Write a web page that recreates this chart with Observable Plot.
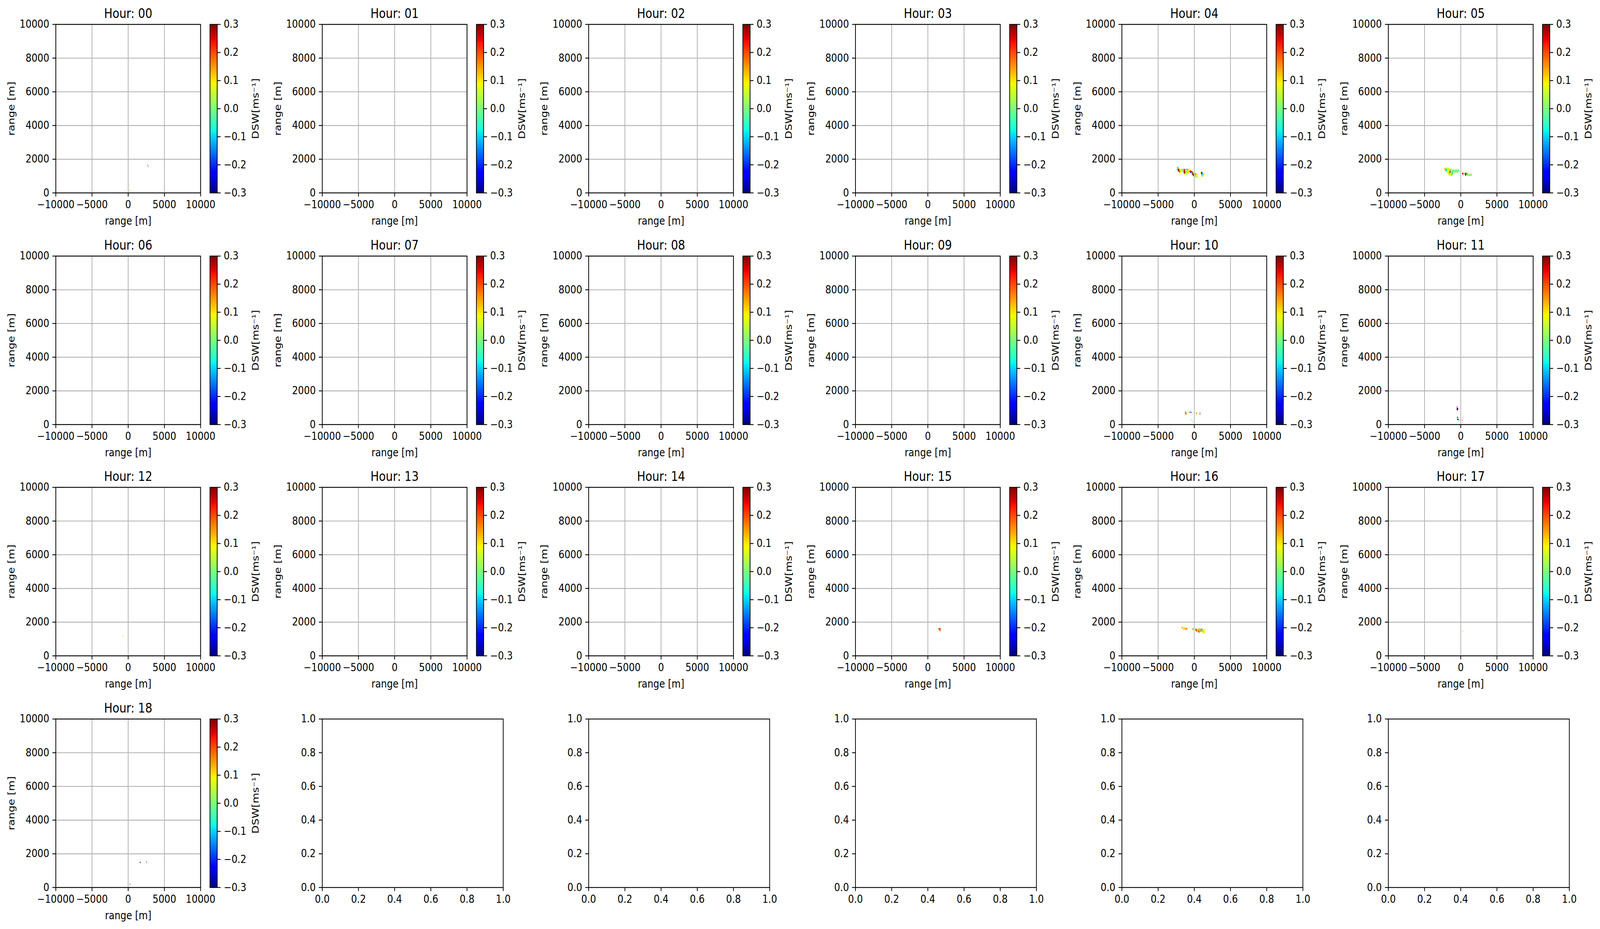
<!DOCTYPE html>
<html><head><meta charset="utf-8">
<script src="https://cdn.jsdelivr.net/npm/d3@7"></script>
<script src="https://cdn.jsdelivr.net/npm/@observablehq/plot@0.6"></script>
<style>
html,body{margin:0;padding:0;background:#fff;overflow:hidden;}
#fig{position:absolute;left:0;top:0;width:4774px;height:2378px;background:#fff;overflow:hidden;transform-origin:0 0;}
</style></head><body><div id="fig"></div>
<script>
// ---------------- data ----------------
const hours = ["00","01","02","03","04","05","06","07","08","09","10","11","12","13","14","15","16","17","18"];
const xTicks = [-10000, -5000, 0, 5000, 10000];
const yTicks = [0, 2000, 4000, 6000, 8000, 10000];
const cbTicks = [-0.3, -0.2, -0.1, 0.0, 0.1, 0.2, 0.3];
const unitTicks = [0, 0.2, 0.4, 0.6, 0.8, 1.0];
const xLabel = "range [m]";
const yLabel = "range [m]";
const cbLabel = "DSW[ms⁻¹]";

// runs of radar cells: [y centre (m), x of first cell (m), DSW values of consecutive cells (null = empty)]
const runs00 = [
  [1650, 2720, [0.20]],
  [1560, 2780, [0.22]],
  [440, 200, [0.02]],
  [140, 240, [0.05]]
];
const runs01 = [];
const runs02 = [];
const runs03 = [];
const runs04 = [
  [1500, -2300, [-0.10, -0.06]],
  [1440, -2300, [-0.08, 0.05, 0.10]],
  [1380, -2300, [0.00, 0.28, 0.30, 0.10, 0.08, 0.12, 0.05, 0.02, -0.08, -0.10, 0.20, 0.10, -0.08, 0.05, -0.12, 0.02, 0.06]],
  [1320, -2200, [0.30, 0.25, 0.12, 0.10, 0.05, 0.10, 0.00, 0.10, 0.22, 0.28, 0.05, 0.08, -0.10, 0.02, 0.10, 0.08, 0.12, 0.20]],
  [1260, -2100, [0.30, 0.20, 0.10, 0.08, null, 0.04, 0.00, 0.30, 0.25, 0.10, 0.02, -0.05, 0.10, 0.05, 0.18, 0.22, 0.28, -0.20, -0.22, 0.10]],
  [1200, -2000, [0.15, 0.10, null, null, null, null, 0.20, 0.30, 0.10, 0.00, 0.08, -0.02, 0.10, 0.12, null, -0.25, -0.15, -0.08, 0.28, 0.10]],
  [1140, -1400, [0.15, 0.22, 0.10, 0.05, null, 0.08, 0.10, null, null, null, -0.10, 0.05, 0.30, 0.00, 0.10, 0.20, -0.08]],
  [1080, -1300, [0.10, null, 0.02, null, null, null, null, null, null, 0.12, null, 0.30, 0.30, 0.10, 0.05, 0.18, 0.10, 0.08]],
  [1020, -100, [0.30, 0.10, 0.02, 0.08, 0.12, 0.06, 0.10]],
  [960, 100, [0.02, 0.00, 0.05, 0.02, 0.10]],
  [900, 200, [0.05, null, 0.06]],
  [1200, 900, [0.10, -0.25, -0.22]],
  [1140, 900, [0.08, -0.22, -0.20, -0.05, 0.00]],
  [1080, 1000, [-0.18, -0.08, -0.10, 0.05, 0.10]],
  [1020, 1000, [0.02, 0.00, 0.10, 0.05]],
  [960, 1100, [0.10, 0.03]],
  [190, 300, [0.10]]
];
const runs05 = [
  [1460, -2180, [0.05, 0.08, 0.10, 0.02, 0.08, 0.10, 0.05]],
  [1400, -2180, [0.20, 0.05, -0.10, 0.08, 0.10, 0.05, 0.02, 0.06, 0.04, 0.00, 0.02]],
  [1340, -2100, [0.10, -0.12, -0.05, 0.10, 0.08, 0.12, 0.05, 0.00, 0.06, 0.02, 0.00, 0.02, 0.00, -0.02, 0.00, 0.02, 0.00, -0.02, 0.00, 0.01]],
  [1280, -2000, [-0.10, 0.05, 0.10, 0.08, 0.02, 0.06, -0.20, 0.10, 0.05, 0.00, 0.02, -0.02, 0.00, 0.03, 0.00, -0.01, 0.02, 0.00, -0.02]],
  [1220, -1880, [0.08, 0.10, 0.05, 0.12, -0.25, 0.08, 0.02, 0.05, -0.05, 0.00, 0.02, 0.00, -0.02, 0.00, 0.02, 0.00, null, null, null, 0.20]],
  [1160, -1760, [0.10, 0.08, 0.12, 0.10, 0.05, 0.00, -0.12, 0.05]],
  [1100, -1660, [0.10, 0.12, 0.08, 0.05, -0.10, 0.02]],
  [1040, -1560, [0.08, 0.10, 0.05, 0.02, 0.06]],
  [1160, 250, [0.22, 0.28, 0.12, 0.02, 0.20, 0.30, -0.02, 0.00, 0.02]],
  [1100, 250, [0.25, 0.15, 0.00, 0.05, 0.30, 0.28, -0.05, 0.00, 0.02, 0.00, -0.02, 0.03, 0.00, 0.02]],
  [1040, 700, [0.30, 0.00, 0.02, -0.02, 0.00, 0.03, 0.00, 0.02, 0.00]],
  [163, 290, [0.00]]
];
const runs06 = [];
const runs07 = [];
const runs08 = [];
const runs09 = [];
const runs10 = [
  [740, -1250, [0.12, 0.02]],
  [680, -1250, [0.15, 0.30]],
  [620, -1150, [0.22]],
  [740, -660, [-0.06]],
  [680, -660, [0.10]],
  [740, -590, [-0.08]],
  [710, -420, [0.30]],
  [280, -310, [0.00]],
  [160, -230, [0.02]],
  [700, 300, [0.06, 0.10]],
  [640, 300, [0.26, 0.08]],
  [610, 790, [0.30]],
  [700, 830, [0.20]]
];
const runs11 = [
  [1025, -510, [-0.22]],
  [960, -480, [0.30, -0.28]],
  [900, -480, [-0.30, 0.30]],
  [840, -430, [0.30]],
  [406, -440, [0.30, 0.00]],
  [300, -450, [0.30, -0.25]],
  [230, -240, [-0.08]],
  [237, 280, [0.20]]
];
const runs12 = [[1150, -680, [0.08]]];
const runs13 = [];
const runs14 = [
  [480, 0, [0.00]],
  [380, -40, [0.05]],
  [250, 40, [-0.02]]
];
const runs15 = [
  [1580, 1440, [0.10]],
  [1590, 1560, [0.30, 0.20, 0.22]],
  [1530, 1620, [0.15, 0.20]],
  [1470, 1640, [0.12, 0.16]]
];
const runs16 = [
  [1680, -1700, [0.18, 0.20, null, 0.05, 0.08]],
  [1620, -1700, [0.15, null, 0.10, 0.05, 0.12, null, 0.20, 0.10, 0.12]],
  [1560, -1500, [0.08, 0.15, null, 0.25, 0.15, 0.12]],
  [1580, -150, [0.30]],
  [1530, -150, [0.10]],
  [1580, 200, [0.18, 0.20, 0.10, null, 0.15, 0.12, 0.20, -0.08, 0.10, 0.20]],
  [1520, 150, [0.10, 0.30, -0.05, 0.00, 0.05, 0.15, 0.10, 0.05, -0.10, 0.20, 0.12, 0.10, 0.08, 0.05]],
  [1460, 300, [0.20, 0.18, 0.10, 0.22, 0.08, 0.20, 0.12, 0.10, 0.15, 0.10, 0.08, 0.05]],
  [1400, 600, [0.20, 0.25, null, 0.10, null, 0.08, 0.10, 0.12, 0.06]],
  [1340, 1300, [0.05, 0.08]]
];
const runs17 = [[1460, 300, [0.05]]];
const runs18 = [
  [1485, 1680, [0.30]],
  [1500, 2540, [0.20]],
  [220, -60, [0.00]],
  [180, 280, [0.20]]
];
const runsByHour = [runs00, runs01, runs02, runs03, runs04, runs05, runs06, runs07, runs08, runs09,
  runs10, runs11, runs12, runs13, runs14, runs15, runs16, runs17, runs18];

// ---------------- layout & style ----------------
const FIG_W = 4774, FIG_H = 2378;
const STEP_X = 100, STEP_Y = 60;         // radar cell size (m)
const AX_L0 = 166, COL_DX = 795.2, AX_T0 = 62.4, ROW_DY = 592.5;
const AX_W = 432, AX_H = 431.3, EMPTY_W = 540, CB_OFF = 460, CB_W = 21.6;
const LW = 2.2, TICK_LEN = 9.7, TICK_PAD = 9.7, TICK_PX = 27.8, TITLE_PX = 33.3;
const baseStyle = {fontFamily: "DejaVu Sans", fontSize: TICK_PX + "px", background: "transparent", overflow: "visible", color: "black"};
const fmtInt = d3.format("d");
const fmt1 = d3.format(".1f");

// matplotlib "jet" colormap segment data
const JET = {
  r: [[0, 0], [0.35, 0], [0.66, 1], [0.89, 1], [1, 0.5]],
  g: [[0, 0], [0.125, 0], [0.375, 1], [0.64, 1], [0.91, 0], [1, 0]],
  b: [[0, 0.5], [0.11, 1], [0.34, 1], [0.65, 0], [1, 0]]
};
const JET_STOPS = [0, 0.11, 0.125, 0.34, 0.35, 0.375, 0.64, 0.65, 0.66, 0.89, 0.91, 1];
function seg(pts, t) {
  for (let i = 1; i < pts.length; i++) {
    if (t <= pts[i][0]) {
      const [t0, v0] = pts[i - 1], [t1, v1] = pts[i];
      return v0 + (v1 - v0) * (t - t0) / (t1 - t0);
    }
  }
  return pts[pts.length - 1][1];
}
const colorScale = {
  type: "linear",
  domain: JET_STOPS.map(t => -0.3 + 0.6 * t),
  range: JET_STOPS.map(t => d3.rgb(255 * seg(JET.r, t), 255 * seg(JET.g, t), 255 * seg(JET.b, t)).formatRgb()),
  interpolate: "rgb",
  clamp: true
};
const cbStops = d3.range(256).map(k => ({lo: -0.3 + 0.6 * k / 256, hi: -0.3 + 0.6 * (k + 1) / 256, mid: -0.3 + 0.6 * (k + 0.5) / 256}));

const fig = document.getElementById("fig");
function place(svg, left, top) {
  svg.style.position = "absolute";
  svg.style.left = left + "px";
  svg.style.top = top + "px";
  fig.appendChild(svg);
}
const axisOpts = {tickSize: TICK_LEN, tickPadding: TICK_PAD, strokeWidth: LW, fontSize: TICK_PX, label: null};

const ML = 170, MR = 60, MT = 70, MB = 120;
function dataPanel(h, runs, left, top) {
  const cells = [];
  for (const [y, x0, vals] of runs) vals.forEach((v, i) => { if (v != null) cells.push({x: x0 + i * STEP_X, y, v}); });
  const svg = Plot.plot({
    width: ML + AX_W + MR, height: MT + AX_H + MB,
    marginLeft: ML, marginRight: MR, marginTop: MT, marginBottom: MB,
    style: baseStyle,
    x: {domain: [-10000, 10000]},
    y: {domain: [0, 10000]},
    color: colorScale,
    marks: [
      Plot.rect(cells, {x1: d => d.x - STEP_X / 2, x2: d => d.x + STEP_X / 2, y1: d => d.y - STEP_Y / 2, y2: d => d.y + STEP_Y / 2, fill: "v", shapeRendering: "crispEdges"}),
      Plot.gridX(xTicks, {stroke: "#b0b0b0", strokeOpacity: 1, strokeWidth: LW}),
      Plot.gridY(yTicks, {stroke: "#b0b0b0", strokeOpacity: 1, strokeWidth: LW}),
      Plot.frame({stroke: "black", strokeWidth: LW}),
      Plot.axisX(xTicks, {anchor: "bottom", tickFormat: fmtInt, ...axisOpts}),
      Plot.axisY(yTicks, {anchor: "left", tickFormat: fmtInt, ...axisOpts}),
      Plot.text([`Hour: ${h}`], {frameAnchor: "top", dy: -16.7, lineAnchor: "bottom", textAnchor: "middle", fontSize: TITLE_PX}),
      Plot.text([xLabel], {frameAnchor: "bottom", dy: 61, lineAnchor: "top", textAnchor: "middle", fontSize: TICK_PX}),
      Plot.text([yLabel], {frameAnchor: "left", dx: -132, rotate: -90, lineAnchor: "middle", textAnchor: "middle", fontSize: TICK_PX})
    ]
  });
  place(svg, left - ML, top - MT);
}

const CB_ML = 10, CB_MR = 160, CB_MT = 70, CB_MB = 30;
function colorbar(left, top) {
  const svg = Plot.plot({
    width: CB_ML + CB_W + CB_MR, height: CB_MT + AX_H + CB_MB,
    marginLeft: CB_ML, marginRight: CB_MR, marginTop: CB_MT, marginBottom: CB_MB,
    style: baseStyle,
    y: {domain: [-0.3, 0.3]},
    color: colorScale,
    marks: [
      Plot.rect(cbStops, {y1: "lo", y2: "hi", fill: "mid", shapeRendering: "crispEdges"}),
      Plot.frame({stroke: "black", strokeWidth: LW}),
      Plot.axisY(cbTicks, {anchor: "right", tickFormat: fmt1, ...axisOpts}),
      Plot.text([cbLabel], {frameAnchor: "right", dx: 115, rotate: -90, lineAnchor: "middle", textAnchor: "middle", fontSize: TICK_PX})
    ]
  });
  place(svg, left - CB_ML, top - CB_MT);
}

function emptyPanel(left, top) {
  const svg = Plot.plot({
    width: ML + EMPTY_W + MR, height: MT + AX_H + MB,
    marginLeft: ML, marginRight: MR, marginTop: MT, marginBottom: MB,
    style: baseStyle,
    x: {domain: [0, 1]},
    y: {domain: [0, 1]},
    marks: [
      Plot.frame({stroke: "black", strokeWidth: LW}),
      Plot.axisX(unitTicks, {anchor: "bottom", tickFormat: fmt1, ...axisOpts}),
      Plot.axisY(unitTicks, {anchor: "left", tickFormat: fmt1, ...axisOpts})
    ]
  });
  place(svg, left - ML, top - MT);
}

for (let i = 0; i < 24; i++) {
  const col = i % 6, row = Math.floor(i / 6);
  const left = AX_L0 + col * COL_DX, top = AX_T0 + row * ROW_DY;
  if (i < hours.length) {
    dataPanel(hours[i], runsByHour[i], left, top);
    colorbar(left + CB_OFF, top);
  } else {
    emptyPanel(left, top);
  }
}

// the window may be smaller than the 4774×2378 figure: map the figure onto the whole window
function fit() {
  const sx = Math.min(1, window.innerWidth / FIG_W);
  const sy = Math.min(1, window.innerHeight / FIG_H);
  fig.style.transform = (sx < 1 || sy < 1) ? `scale(${sx}, ${sy})` : "";
}
fit();
window.addEventListener("resize", fit);
</script>
</body></html>
